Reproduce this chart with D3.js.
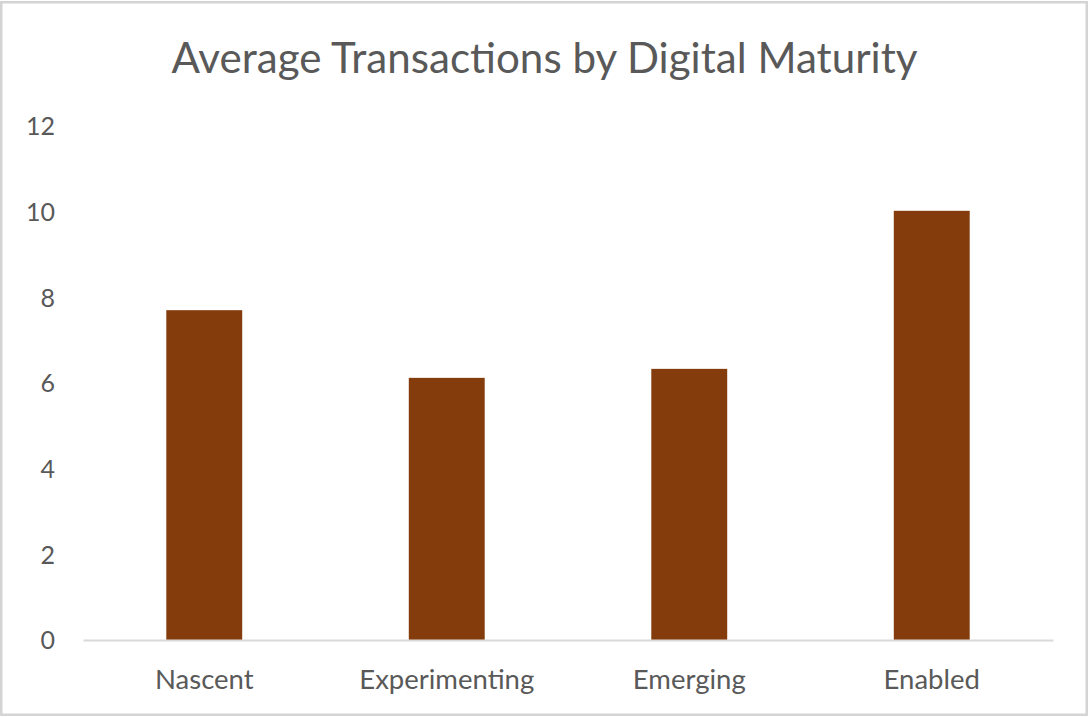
<!DOCTYPE html>
<html>
<head>
<meta charset="utf-8">
<script src="https://cdn.jsdelivr.net/npm/d3@7"></script>
<style>
  html, body { margin: 0; padding: 0; background: #ffffff; }
  svg { display: block; }
</style>
</head>
<body>
<script>
// Chart data
const categories = ["Nascent", "Experimenting", "Emerging", "Enabled"];
const averageTransactions = [7.7, 6.12, 6.33, 10.02];
const yTicks = [0, 2, 4, 6, 8, 10, 12];
const chartTitle = "Average Transactions by Digital Maturity";

const W = 1089, H = 717;
const margin = { left: 83, right: 36, top: 126, bottom: 77 };
const plotW = W - margin.left - margin.right;
const plotH = H - margin.top - margin.bottom;

const textColor = "#595959";
const barColor = "#843C0C";
const fontFamily = "Lato, 'Open Sans', sans-serif";

const svg = d3.select("body").append("svg")
  .attr("width", W)
  .attr("height", H);

// Chart area frame
svg.append("rect")
  .attr("x", 1.25).attr("y", 2.25)
  .attr("width", W - 3.5).attr("height", H - 4.5)
  .attr("fill", "#ffffff")
  .attr("stroke", "#d4d4d4")
  .attr("stroke-width", 2.5);

// Title
svg.append("text")
  .attr("x", W / 2)
  .attr("y", 73)
  .attr("text-anchor", "middle")
  .attr("font-family", fontFamily)
  .attr("font-size", 43)
  .attr("fill", textColor)
  .attr("textLength", 746)
  .attr("lengthAdjust", "spacingAndGlyphs")
  .text(chartTitle);

const x = d3.scaleBand()
  .domain(categories)
  .range([0, plotW])
  .paddingInner(0.687)
  .paddingOuter(0.3435);

const y = d3.scaleLinear()
  .domain([0, 12])
  .range([plotH, 0]);

const g = svg.append("g")
  .attr("transform", `translate(${margin.left},${margin.top})`);

// Bars
g.selectAll("rect.bar")
  .data(categories.map((c, i) => ({ c, v: averageTransactions[i] })))
  .join("rect")
  .attr("class", "bar")
  .attr("x", d => x(d.c))
  .attr("width", x.bandwidth())
  .attr("y", d => y(d.v))
  .attr("height", d => plotH - y(d.v))
  .attr("fill", barColor);

// Y axis (labels only)
const yAxis = d3.axisLeft(y)
  .tickValues(yTicks)
  .tickSize(0)
  .tickPadding(0)
  .tickFormat(d3.format("d"));

const yg = g.append("g")
  .attr("transform", `translate(${55 - margin.left},0)`)
  .call(yAxis);
yg.select(".domain").remove();
yg.selectAll("text")
  .attr("font-family", fontFamily)
  .attr("font-size", 25)
  .attr("fill", textColor)
  .attr("dy", "0.35em");

// X axis baseline and category labels
const xAxis = d3.axisBottom(x).tickSize(0).tickPadding(0);
const xg = g.append("g")
  .attr("transform", `translate(0,${plotH})`)
  .call(xAxis);
xg.select(".domain")
  .attr("stroke", "#d9d9d9")
  .attr("stroke-width", 2);
xg.selectAll("text")
  .attr("font-family", fontFamily)
  .attr("font-size", 27.5)
  .attr("fill", textColor)
  .attr("dy", null)
  .attr("y", 49);
</script>
</body>
</html>
